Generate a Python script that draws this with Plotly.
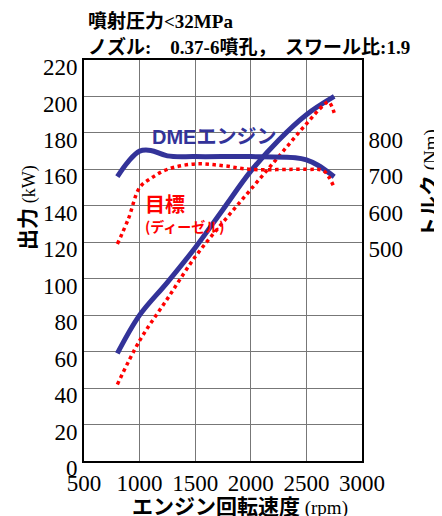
import plotly.graph_objects as go

# ---- data ----
rpm_power_dme = [800, 1000, 1250, 1500, 1750, 2000, 2250, 2500, 2750]
power_dme_kw = [59, 80, 98, 117, 138, 159, 176, 190, 200]

rpm_power_target = [800, 1000, 1250, 1500, 1750, 2000, 2250, 2500, 2650, 2700, 2750]
power_target_kw = [42, 66, 89, 112, 131, 149, 167, 185, 195, 197, 191]

rpm_torque_dme = [800, 900, 1000, 1100, 1250, 1500, 2000, 2400, 2500, 2600, 2750]
torque_dme_nm = [680, 722, 750, 752, 737, 735, 735, 732, 726, 712, 680]

rpm_torque_target = [800, 900, 1000, 1100, 1250, 1500, 1750, 2000, 2500, 2650, 2700, 2750]
torque_target_nm = [495, 565, 650, 675, 700, 715, 710, 700, 700, 697, 680, 650]

x_ticks = [500, 1000, 1500, 2000, 2500, 3000]
y_ticks = [0, 20, 40, 60, 80, 100, 120, 140, 160, 180, 200, 220]
y2_ticks = [500, 600, 700, 800]

BLUE = "#333399"
RED = "#ff0000"
SERIF = "Liberation Serif"
JP = "Noto Sans CJK JP"

fig = go.Figure()
fig.add_trace(go.Scatter(x=rpm_power_dme, y=power_dme_kw, mode="lines",
                         line=dict(color=BLUE, width=5, shape="spline"), showlegend=False))
fig.add_trace(go.Scatter(x=rpm_torque_dme, y=torque_dme_nm, mode="lines", yaxis="y2",
                         line=dict(color=BLUE, width=5, shape="spline"), showlegend=False))
fig.add_trace(go.Scatter(x=rpm_power_target, y=power_target_kw, mode="lines",
                         line=dict(color=RED, width=3.5, dash="dot", shape="spline"), showlegend=False))
fig.add_trace(go.Scatter(x=rpm_torque_target, y=torque_target_nm, mode="lines", yaxis="y2",
                         line=dict(color=RED, width=3.5, dash="dot", shape="spline"), showlegend=False))

# the page body has an 8px margin, so the figure is drawn 8px smaller and offset
fig.update_layout(
    width=434, height=508,
    margin=dict(l=76, r=80, t=52, b=55),
    paper_bgcolor="white", plot_bgcolor="white",
    xaxis=dict(range=[500, 3000], tickvals=x_ticks, ticks="", showgrid=True,
               gridcolor="#777777", gridwidth=1, showline=True, linecolor="black",
               linewidth=2, mirror=True, zeroline=False,
               tickfont=dict(family=SERIF, size=23, color="black")),
    yaxis=dict(range=[0, 220], tickvals=y_ticks, ticks="", showgrid=True,
               gridcolor="#777777", gridwidth=1, showline=True, linecolor="black",
               linewidth=2, mirror=True, zeroline=False, ticklabelshift=7,
               tickfont=dict(family=SERIF, size=23, color="black")),
    yaxis2=dict(range=[-100, 1000], tickvals=y2_ticks, overlaying="y", side="right",
                showgrid=False, ticks="", zeroline=False, showline=True, linecolor="black",
                linewidth=2, ticklabelshift=7,
                tickfont=dict(family=SERIF, size=23, color="black")),
)

ann = []
# title lines
ann.append(dict(xref="paper", yref="paper", x=0.007, y=1.102, xanchor="left", yanchor="middle",
                showarrow=False, font=dict(family=JP, size=19, color="black"),
                text="<b>噴射圧力<span style=\"font-family:'Liberation Serif'\">&lt;32MPa</span></b>"))
ann.append(dict(xref="paper", yref="paper", x=0.007, y=1.037, xanchor="left", yanchor="middle",
                showarrow=False, font=dict(family=JP, size=19, color="black"),
                text="<b>ノズル<span style=\"font-family:'Liberation Serif'\">:    0.37-6</span>噴孔，  スワール比<span style=\"font-family:'Liberation Serif'\">:1.9</span></b>"))
# axis titles
ann.append(dict(xref="paper", yref="paper", x=-0.209, y=0.633, xanchor="center", yanchor="middle",
                textangle=-90, showarrow=False, font=dict(family=JP, size=21, color="black"),
                text="<b>出力</b> <span style=\"font-family:'Liberation Serif'; font-size:18px\">(kW)</span>"))
ann.append(dict(xref="paper", yref="paper", x=1.237, y=0.693, xanchor="center", yanchor="middle",
                textangle=-90, showarrow=False, font=dict(family=JP, size=21, color="black"),
                text="<b>トルク</b> <span style=\"font-family:'Liberation Serif'; font-size:19px\">(Nm)</span>"))
ann.append(dict(xref="paper", yref="paper", x=0.561, y=-0.11, xanchor="center", yanchor="middle",
                showarrow=False, font=dict(family=JP, size=21, color="black"),
                text="<b>エンジン回転速度</b> <span style=\"font-family:'Liberation Serif'; font-size:19px\">(rpm)</span>"))
# in-plot labels
ann.append(dict(xref="x", yref="y", x=1669, y=177.5, xanchor="center", yanchor="middle",
                showarrow=False, font=dict(family="Liberation Sans, " + JP, size=20, color=BLUE),
                text="<b>DMEエンジン</b>"))
ann.append(dict(xref="x", yref="y", x=1033, y=141.5, xanchor="left", yanchor="middle",
                showarrow=False, font=dict(family=JP, size=20, color=RED),
                text="<b>目標</b>"))
ann.append(dict(xref="x", yref="y", x=1033, y=129, xanchor="left", yanchor="middle",
                showarrow=False, font=dict(family=JP, size=14, color=RED),
                text="<b>(ディーゼル)</b>"))
fig.update_layout(annotations=ann)

fig.write_html("out.html")
